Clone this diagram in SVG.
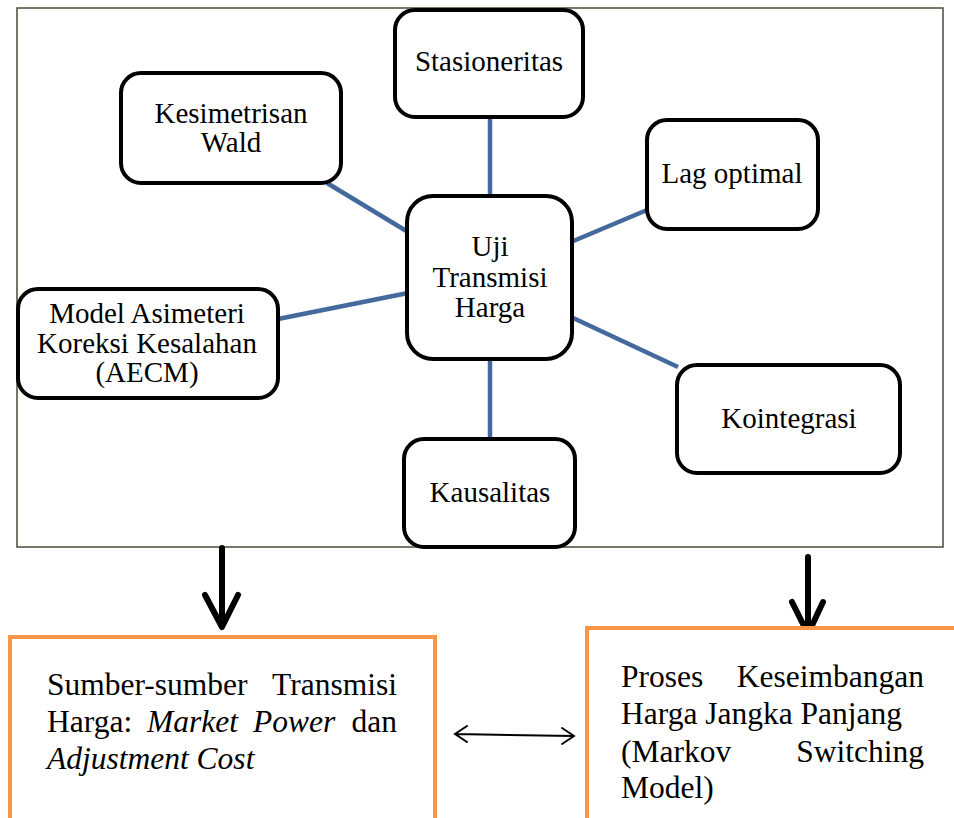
<svg xmlns="http://www.w3.org/2000/svg" width="954" height="818" viewBox="0 0 954 818">
<style>
.node rect{fill:#fff;stroke:#000;stroke-width:4}
text{font-family:'Liberation Serif','Times New Roman',serif;fill:#000}
.n{font-size:29px;text-anchor:middle}
.b{font-size:31.5px}
.e{text-anchor:end}
.i{font-style:italic}
.conn line{stroke:#44699d;stroke-width:4.5}
.big{stroke:#000;stroke-width:6;fill:none;stroke-linecap:round;stroke-linejoin:round}
.thin{stroke:#000;stroke-width:2;fill:none;stroke-linecap:round}
.obox{fill:#fff;stroke:#f79646;stroke-width:4}
</style>
<rect width="954" height="818" fill="#fff"/>
<rect id="frame" x="17" y="8" width="926" height="539" fill="#fff" stroke="#4c4a38" stroke-width="1.5"/>
<g class="conn" id="connectors">
<line x1="490" y1="117" x2="490" y2="197"/>
<line x1="327" y1="183" x2="408" y2="232"/>
<line x1="571" y1="242" x2="647" y2="210"/>
<line x1="278" y1="319" x2="408" y2="293"/>
<line x1="571" y1="317" x2="678" y2="367"/>
<line x1="490" y1="358" x2="490" y2="439"/>
<path class="big" d="M222 548 V626 M205 595 L222 627 L238 595"/>
<path class="big" d="M808 557 V634 M792 602 L808 634 L823 602"/>
<path class="thin" d="M455 734 L574 736 M467 726 L455 734 L467 742 M562 728 L574 736 L562 744"/>
</g>
<g class="node" id="stasioneritas"><rect x="395" y="10" width="188" height="107" rx="20"/><text class="n" x="489" y="71">Stasioneritas</text></g>
<g class="node" id="wald"><rect x="121" y="73" width="220" height="110" rx="20"/><text class="n" x="231" y="123">Kesimetrisan</text><text class="n" x="231" y="152">Wald</text></g>
<g class="node" id="lag"><rect x="647" y="120" width="171" height="109" rx="20"/><text class="n" x="732" y="183">Lag optimal</text></g>
<g class="node" id="uji"><rect x="407" y="196" width="165" height="163" rx="26"/><text class="n" x="490" y="256">Uji</text><text class="n" x="490" y="287">Transmisi</text><text class="n" x="490" y="317">Harga</text></g>
<g class="node" id="aecm"><rect x="18" y="289" width="260" height="109" rx="20"/><text class="n" x="147" y="323">Model Asimeteri</text><text class="n" x="147" y="353">Koreksi Kesalahan</text><text class="n" x="147" y="382">(AECM)</text></g>
<g class="node" id="kointegrasi"><rect x="677" y="365" width="223" height="108" rx="20"/><text class="n" x="789" y="428">Kointegrasi</text></g>
<g class="node" id="kausalitas"><rect x="404" y="439" width="171" height="108" rx="20"/><text class="n" x="490" y="502">Kausalitas</text></g>
<g id="sumber"><rect class="obox" x="10" y="637" width="425" height="200"/>
<text class="b" x="47" y="695">Sumber-sumber</text><text class="b e" x="397" y="695">Transmisi</text>
<text class="b" x="47" y="732">Harga:</text><text class="b i" x="147" y="732">Market</text><text class="b i" x="253" y="732">Power</text><text class="b e" x="397" y="732">dan</text>
<text class="b i" x="47" y="769">Adjustment Cost</text></g>
<g id="proses"><rect class="obox" x="587" y="628" width="380" height="210"/>
<text class="b" x="621" y="687">Proses</text><text class="b e" x="924" y="687">Keseimbangan</text>
<text class="b" x="621" y="724">Harga Jangka Panjang</text>
<text class="b" x="621" y="762">(Markov</text><text class="b e" x="924" y="762">Switching</text>
<text class="b" x="621" y="798">Model)</text></g>
</svg>
